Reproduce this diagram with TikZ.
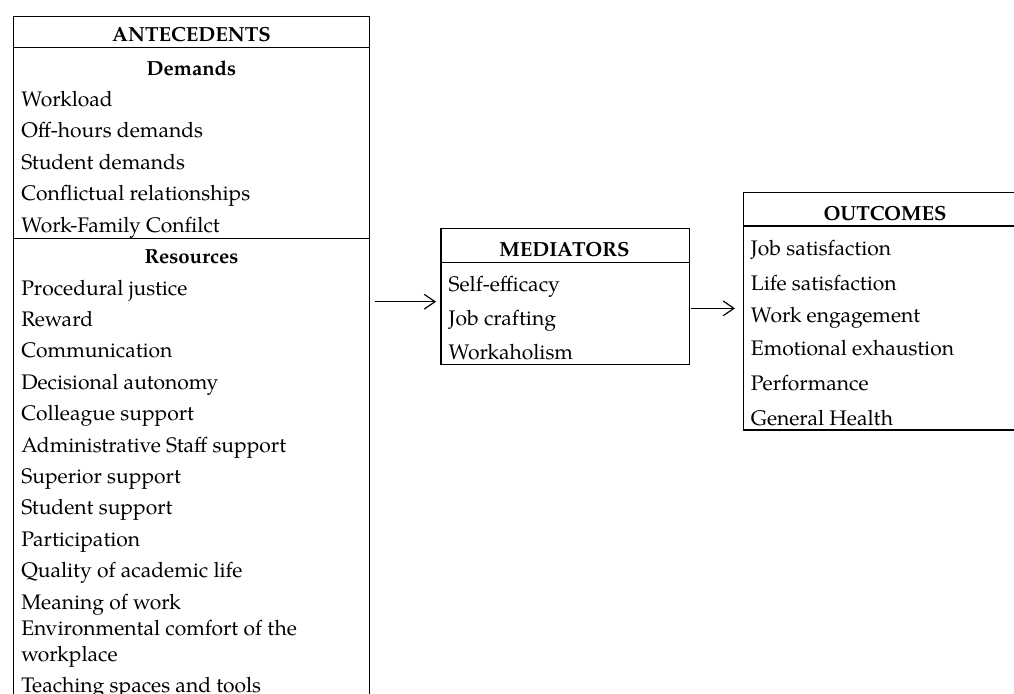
\documentclass[tikz,border=0pt]{standalone}
\usepackage{fontspec}
\setmainfont{TeX Gyre Pagella}
\usetikzlibrary{arrows.meta,calc}
\begin{document}
\begin{tikzpicture}[x=0.75pt,y=-0.75pt,
  box/.style={draw=black,line width=1pt,inner sep=0pt,rectangle},
  item/.style={anchor=base west,inner sep=0pt,font=\fontsize{15.8}{18}\selectfont},
  head/.style={anchor=base,inner sep=0pt,font=\bfseries\fontsize{15.3}{18}\selectfont},
  rule/.style={line width=1pt},
  flow/.style={line width=0.9pt,-{Straight Barb[length=8pt,width=11pt,line width=0.9pt]}}]
\useasboundingbox (0,0) rectangle (1014,693);
\clip (0,0) rectangle (1014,693);
% boxes
\node[box,anchor=north west,minimum width=267.2pt,minimum height=528pt] (ant) at (12.7,16) {};
\node[box,anchor=north west,minimum width=186.3pt,minimum height=102pt] (med) at (440.3,227.7) {};
\node[box,anchor=north west,minimum width=213pt,minimum height=178.2pt] (out) at (742.7,191.7) {};
% rules
\draw[rule] (12.7,47.3) -- (369,47.3);
\draw[rule] (12.7,238.3) -- (369,238.3);
\draw[rule] (440.3,262.7) -- (688.7,262.7);
\draw[rule] (742.7,226) -- (1027,226);
% antecedents
\node[head] (tA) at (191.5,41.7) {ANTECEDENTS};
\node[head] (tD) at (191.5,75) {Demands};
\node[item] (d1) at (21,106) {Workload};
\node[item] (d2) at (21,137.5) {Off-hours demands};
\node[item] (d3) at (21,169) {Student demands};
\node[item] (d4) at (21,200.5) {Conflictual relationships};
\node[item] (d5) at (21,232) {Work-Family Confilct};
\node[head] (tR) at (191.5,263) {Resources};
\node[item] (r1) at (21,295) {Procedural justice};
\node[item] (r2) at (21,326.4) {Reward};
\node[item] (r3) at (21,357.8) {Communication};
\node[item] (r4) at (21,389.2) {Decisional autonomy};
\node[item] (r5) at (21,420.6) {Colleague support};
\node[item] (r6) at (21,452) {Administrative Staff support};
\node[item] (r7) at (21,483.4) {Superior support};
\node[item] (r8) at (21,514.8) {Student support};
\node[item] (r9) at (21,546.2) {Participation};
\node[item] (r10) at (21,577.6) {Quality of academic life};
\node[item] (r11) at (21,609) {Meaning of work};
\node[item] (r12) at (21,635) {Environmental comfort of the};
\node[item] (r12b) at (21,661) {workplace};
\node[item] (r13) at (21,692) {Teaching spaces and tools};
% mediators
\node[head] (tM) at (564.5,256) {MEDIATORS};
\node[item] (m1) at (448.3,291.7) {Self-efficacy};
\node[item] (m2) at (448.3,325) {Job crafting};
\node[item] (m3) at (448.3,359.3) {Workaholism};
% outcomes
\node[head] (tO) at (885,220) {OUTCOMES};
\node[item] (o1) at (750.7,255) {Job satisfaction};
\node[item] (o2) at (750.7,290) {Life satisfaction};
\node[item] (o3) at (750.7,322.7) {Work engagement};
\node[item] (o4) at (750.7,355.7) {Emotional exhaustion};
\node[item] (o5) at (750.7,390.7) {Performance};
\node[item] (o6) at (750.7,425) {General Health};
% arrows
\draw[flow] ($(ant.east |- med.west)+(3.2pt,-4pt)$) -- ($(med.west)+(-3.2pt,-4pt)$);
\draw[flow] ($(med.east |- out.west)+(1pt,2.1pt)$) -- ($(out.west)+(-5.8pt,2.1pt)$);
\end{tikzpicture}
\end{document}
